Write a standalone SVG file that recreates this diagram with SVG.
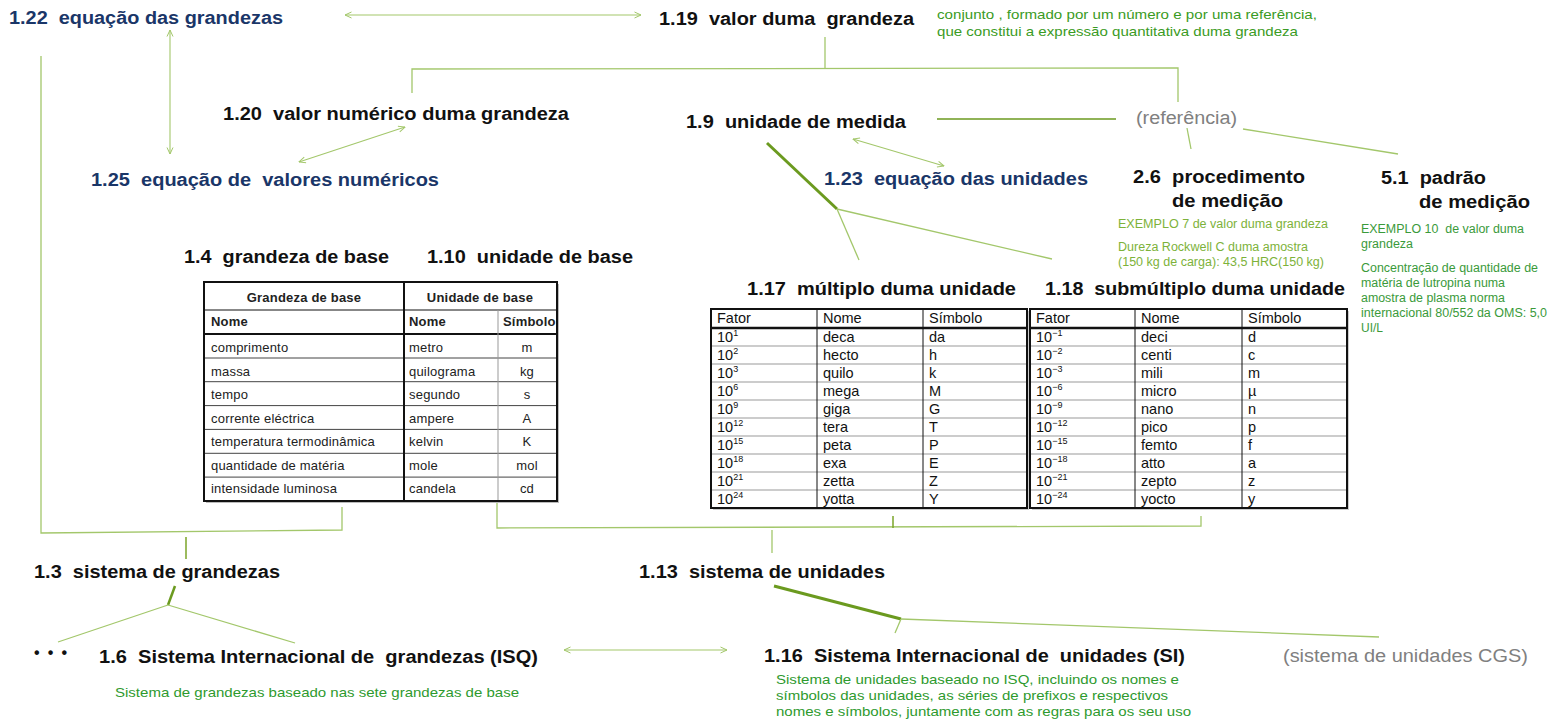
<svg xmlns="http://www.w3.org/2000/svg" width="1551" height="724" viewBox="0 0 1551 724" xml:space="preserve">
<style>
text{white-space:pre}
.lb{font-family:"Liberation Sans",Arial,sans-serif;font-weight:bold;font-size:18px;fill:#111}
.nv{fill:#1A3668}
.gy{font-family:"Liberation Sans",Arial,sans-serif;font-size:18px;fill:#808080}
.gd{font-family:"Liberation Sans",Arial,sans-serif;font-size:13.5px;fill:#3A9B24}
.gs{font-family:"Liberation Sans",Arial,sans-serif;font-size:12px}
.yg{fill:#7DB23A}
.dg{fill:#3A9A3A}
.tb{font-family:"Liberation Sans",Arial,sans-serif;font-size:13px;fill:#222;letter-spacing:0.2px}
.tbb{font-weight:bold}
.tr{font-family:"Liberation Sans",Arial,sans-serif;font-size:14.5px;fill:#111}
.sup{font-size:9px}
.ln{fill:none;stroke:#A3C76B;stroke-width:1.3}
.th{fill:none;stroke:#6B9A1F;stroke-width:3}
.md{fill:none;stroke:#7BA428;stroke-width:1.5}
.ar{fill:none;stroke:#A3C76B;stroke-width:1.1;marker-start:url(#ah);marker-end:url(#ah)}
.bk{fill:none;stroke:#111;stroke-width:2}
.bt{fill:none;stroke:#111;stroke-width:1}
.gl{fill:none;stroke:#999;stroke-width:1}
</style>
<defs>
<marker id="ah" viewBox="0 0 8 8" refX="7.5" refY="4" markerWidth="8" markerHeight="8" markerUnits="userSpaceOnUse" orient="auto-start-reverse">
<path d="M1,1 L7.5,4 L1,7" fill="none" stroke="#A3C76B" stroke-width="1"/>
</marker>
</defs>
<rect width="1551" height="724" fill="#fff"/>

<g id="connectors">
<line class="ar" x1="345" y1="15" x2="641" y2="15"/>
<line class="ar" x1="170" y1="30" x2="170" y2="154"/>
<line class="ar" x1="405" y1="127" x2="299" y2="162"/>
<path class="ln" d="M41,56 V533 L342,530 V507"/>
<line class="md" x1="186" y1="537" x2="186" y2="559"/>
<path class="ln" d="M497,502 V528 L1201,526 V516"/>
<line class="md" x1="893" y1="516" x2="893" y2="528"/>
<line class="ln" x1="772" y1="530" x2="772" y2="553"/>
<path class="ln" d="M412,93 V69 L1178,68 V102"/>
<line class="ln" x1="825" y1="37" x2="825" y2="69"/>
<line x1="937" y1="119" x2="1116" y2="119" stroke="#6B9A1F" stroke-width="1.5"/>
<line class="ar" x1="853" y1="139" x2="944" y2="166"/>
<line class="th" x1="767" y1="143" x2="837" y2="209"/>
<line class="ln" x1="837" y1="209" x2="859" y2="260"/>
<line class="ln" x1="837" y1="209" x2="1052" y2="259"/>
<line class="ln" x1="1187" y1="128" x2="1191" y2="149"/>
<line class="ln" x1="1243" y1="129" x2="1398" y2="154"/>
<line class="th" x1="175" y1="586" x2="168" y2="605" style="stroke-width:2.5"/>
<line class="ln" x1="168" y1="605" x2="58" y2="642"/>
<line class="ln" x1="168" y1="605" x2="295" y2="643"/>
<line class="ar" x1="564" y1="650" x2="727" y2="650"/>
<line class="th" x1="774" y1="586" x2="901" y2="619"/>
<line class="ln" x1="901" y1="619" x2="1379" y2="637"/>
<line class="ln" x1="901" y1="619" x2="895" y2="633"/>
</g>

<g id="n1_22"><text class="lb nv" x="9" y="24" textLength="274" lengthAdjust="spacingAndGlyphs">1.22  equação das grandezas</text></g>
<g id="n1_19">
<text class="lb" x="659" y="25" textLength="255" lengthAdjust="spacingAndGlyphs">1.19  valor duma  grandeza</text>
<text class="gd" x="937" y="19" textLength="380" lengthAdjust="spacingAndGlyphs">conjunto , formado por um número e por uma referência,</text>
<text class="gd" x="937" y="36" textLength="361" lengthAdjust="spacingAndGlyphs">que constitui a expressão quantitativa duma grandeza</text>
</g>
<g id="n1_20"><text class="lb" x="223" y="120" textLength="346" lengthAdjust="spacingAndGlyphs">1.20  valor numérico duma grandeza</text></g>
<g id="n1_9"><text class="lb" x="686" y="128" textLength="220" lengthAdjust="spacingAndGlyphs">1.9  unidade de medida</text></g>
<g id="nref"><text class="gy" x="1136" y="124" textLength="101" lengthAdjust="spacingAndGlyphs">(referência)</text></g>
<g id="n1_25"><text class="lb nv" x="91" y="186" textLength="348" lengthAdjust="spacingAndGlyphs">1.25  equação de  valores numéricos</text></g>
<g id="n1_23"><text class="lb nv" x="824" y="185" textLength="264" lengthAdjust="spacingAndGlyphs">1.23  equação das unidades</text></g>
<g id="n2_6">
<text class="lb" x="1133" y="183" textLength="172" lengthAdjust="spacingAndGlyphs">2.6  procedimento</text>
<text class="lb" x="1172" y="207" textLength="111" lengthAdjust="spacingAndGlyphs">de medição</text>
<text class="gs yg" x="1118" y="228" textLength="210" lengthAdjust="spacingAndGlyphs">EXEMPLO 7 de valor duma grandeza</text>
<text class="gs yg" x="1118" y="251" textLength="190" lengthAdjust="spacingAndGlyphs">Dureza Rockwell C duma amostra</text>
<text class="gs yg" x="1118" y="266" textLength="206" lengthAdjust="spacingAndGlyphs">(150 kg de carga): 43,5 HRC(150 kg)</text>
</g>
<g id="n5_1">
<text class="lb" x="1381" y="184" textLength="105" lengthAdjust="spacingAndGlyphs">5.1  padrão</text>
<text class="lb" x="1419" y="208" textLength="111" lengthAdjust="spacingAndGlyphs">de medição</text>
<text class="gs dg" x="1361" y="233" textLength="163" lengthAdjust="spacingAndGlyphs">EXEMPLO 10  de valor duma</text>
<text class="gs dg" x="1361" y="248" textLength="52" lengthAdjust="spacingAndGlyphs">grandeza</text>
<text class="gs dg" x="1361" y="272" textLength="177" lengthAdjust="spacingAndGlyphs">Concentração de quantidade de</text>
<text class="gs dg" x="1361" y="287" textLength="144" lengthAdjust="spacingAndGlyphs">matéria de lutropina numa</text>
<text class="gs dg" x="1361" y="302" textLength="144" lengthAdjust="spacingAndGlyphs">amostra de plasma norma</text>
<text class="gs dg" x="1361" y="317" textLength="186" lengthAdjust="spacingAndGlyphs">internacional 80/552 da OMS: 5,0</text>
<text class="gs dg" x="1361" y="332" textLength="22" lengthAdjust="spacingAndGlyphs">UI/L</text>
</g>
<g id="n1_4"><text class="lb" x="184" y="263" textLength="205" lengthAdjust="spacingAndGlyphs">1.4  grandeza de base</text></g>
<g id="n1_10"><text class="lb" x="427" y="263" textLength="206" lengthAdjust="spacingAndGlyphs">1.10  unidade de base</text></g>

<g id="tabela_base">
<rect x="206" y="284" width="353" height="219" fill="#bbb"/>
<rect x="204" y="282" width="353" height="219" fill="#fff"/>
<line class="bt" x1="204" y1="310" x2="557" y2="310"/>
<line class="bk" x1="204" y1="334" x2="557" y2="334"/>
<line class="bt" x1="204" y1="358" x2="557" y2="358" style="stroke:#444"/>
<line class="bt" x1="204" y1="381.7" x2="557" y2="381.7" style="stroke:#444"/>
<line class="bt" x1="204" y1="405.6" x2="557" y2="405.6" style="stroke:#444"/>
<line class="bt" x1="204" y1="429.4" x2="557" y2="429.4" style="stroke:#444"/>
<line class="bt" x1="204" y1="453.3" x2="557" y2="453.3" style="stroke:#444"/>
<line class="bt" x1="204" y1="477.1" x2="557" y2="477.1" style="stroke:#444"/>
<line class="gl" x1="498" y1="310" x2="498" y2="501"/>
<line class="bk" x1="404" y1="282" x2="404" y2="501"/>
<rect class="bk" x="204" y="282" width="353" height="219"/>
<text class="tb tbb" x="304" y="302" text-anchor="middle">Grandeza de base</text>
<text class="tb tbb" x="480" y="302" text-anchor="middle">Unidade de base</text>
<text class="tb tbb" x="211" y="326">Nome</text>
<text class="tb tbb" x="409" y="326">Nome</text>
<text class="tb tbb" x="503" y="326">Símbolo</text>
<text class="tb" x="211" y="352">comprimento</text><text class="tb" x="409" y="352">metro</text><text class="tb" x="527" y="352" text-anchor="middle">m</text>
<text class="tb" x="211" y="375.5">massa</text><text class="tb" x="409" y="375.5">quilograma</text><text class="tb" x="527" y="375.5" text-anchor="middle">kg</text>
<text class="tb" x="211" y="399">tempo</text><text class="tb" x="409" y="399">segundo</text><text class="tb" x="527" y="399" text-anchor="middle">s</text>
<text class="tb" x="211" y="422.5">corrente eléctrica</text><text class="tb" x="409" y="422.5">ampere</text><text class="tb" x="527" y="422.5" text-anchor="middle">A</text>
<text class="tb" x="211" y="446">temperatura termodinâmica</text><text class="tb" x="409" y="446">kelvin</text><text class="tb" x="527" y="446" text-anchor="middle">K</text>
<text class="tb" x="211" y="469.5">quantidade de matéria</text><text class="tb" x="409" y="469.5">mole</text><text class="tb" x="527" y="469.5" text-anchor="middle">mol</text>
<text class="tb" x="211" y="493">intensidade luminosa</text><text class="tb" x="409" y="493">candela</text><text class="tb" x="527" y="493" text-anchor="middle">cd</text>
</g>

<g id="n1_17"><text class="lb" x="747" y="295" textLength="269" lengthAdjust="spacingAndGlyphs">1.17  múltiplo duma unidade</text></g>
<g id="n1_18"><text class="lb" x="1045" y="295" textLength="300" lengthAdjust="spacingAndGlyphs">1.18  submúltiplo duma unidade</text></g>

<g id="tabela_multiplos">
<rect x="713" y="311" width="316" height="199" fill="#ccc"/>
<rect x="711" y="309" width="316" height="199" fill="#fff"/>
<line class="gl" x1="711" y1="346" x2="1027" y2="346"/>
<line class="gl" x1="711" y1="364" x2="1027" y2="364"/>
<line class="gl" x1="711" y1="382" x2="1027" y2="382"/>
<line class="gl" x1="711" y1="400" x2="1027" y2="400"/>
<line class="gl" x1="711" y1="418" x2="1027" y2="418"/>
<line class="gl" x1="711" y1="436" x2="1027" y2="436"/>
<line class="gl" x1="711" y1="454" x2="1027" y2="454"/>
<line class="gl" x1="711" y1="472" x2="1027" y2="472"/>
<line class="gl" x1="711" y1="490" x2="1027" y2="490"/>
<line class="bt" x1="817" y1="309" x2="817" y2="508"/>
<line class="bt" x1="923" y1="309" x2="923" y2="508"/>
<line x1="711" y1="328" x2="1027" y2="328" stroke="#111" stroke-width="2.5"/>
<rect class="bk" x="711" y="309" width="316" height="199"/>
<text class="tr" x="717" y="323">Fator</text><text class="tr" x="823" y="323">Nome</text><text class="tr" x="929" y="323">Símbolo</text>
<text class="tr" x="717" y="342">10<tspan class="sup" dy="-6">1</tspan></text><text class="tr" x="823" y="342">deca</text><text class="tr" x="929" y="342">da</text>
<text class="tr" x="717" y="360">10<tspan class="sup" dy="-6">2</tspan></text><text class="tr" x="823" y="360">hecto</text><text class="tr" x="929" y="360">h</text>
<text class="tr" x="717" y="378">10<tspan class="sup" dy="-6">3</tspan></text><text class="tr" x="823" y="378">quilo</text><text class="tr" x="929" y="378">k</text>
<text class="tr" x="717" y="396">10<tspan class="sup" dy="-6">6</tspan></text><text class="tr" x="823" y="396">mega</text><text class="tr" x="929" y="396">M</text>
<text class="tr" x="717" y="414">10<tspan class="sup" dy="-6">9</tspan></text><text class="tr" x="823" y="414">giga</text><text class="tr" x="929" y="414">G</text>
<text class="tr" x="717" y="432">10<tspan class="sup" dy="-6">12</tspan></text><text class="tr" x="823" y="432">tera</text><text class="tr" x="929" y="432">T</text>
<text class="tr" x="717" y="450">10<tspan class="sup" dy="-6">15</tspan></text><text class="tr" x="823" y="450">peta</text><text class="tr" x="929" y="450">P</text>
<text class="tr" x="717" y="468">10<tspan class="sup" dy="-6">18</tspan></text><text class="tr" x="823" y="468">exa</text><text class="tr" x="929" y="468">E</text>
<text class="tr" x="717" y="486">10<tspan class="sup" dy="-6">21</tspan></text><text class="tr" x="823" y="486">zetta</text><text class="tr" x="929" y="486">Z</text>
<text class="tr" x="717" y="504">10<tspan class="sup" dy="-6">24</tspan></text><text class="tr" x="823" y="504">yotta</text><text class="tr" x="929" y="504">Y</text>
</g>

<g id="tabela_submultiplos">
<rect x="1032" y="311" width="317" height="199" fill="#ccc"/>
<rect x="1030" y="309" width="317" height="199" fill="#fff"/>
<line class="gl" x1="1030" y1="346" x2="1347" y2="346"/>
<line class="gl" x1="1030" y1="364" x2="1347" y2="364"/>
<line class="gl" x1="1030" y1="382" x2="1347" y2="382"/>
<line class="gl" x1="1030" y1="400" x2="1347" y2="400"/>
<line class="gl" x1="1030" y1="418" x2="1347" y2="418"/>
<line class="gl" x1="1030" y1="436" x2="1347" y2="436"/>
<line class="gl" x1="1030" y1="454" x2="1347" y2="454"/>
<line class="gl" x1="1030" y1="472" x2="1347" y2="472"/>
<line class="gl" x1="1030" y1="490" x2="1347" y2="490"/>
<line class="bt" x1="1135" y1="309" x2="1135" y2="508"/>
<line class="bt" x1="1242" y1="309" x2="1242" y2="508"/>
<line x1="1030" y1="328" x2="1347" y2="328" stroke="#111" stroke-width="2.5"/>
<rect class="bk" x="1030" y="309" width="317" height="199"/>
<text class="tr" x="1036" y="323">Fator</text><text class="tr" x="1141" y="323">Nome</text><text class="tr" x="1248" y="323">Símbolo</text>
<text class="tr" x="1036" y="342">10<tspan class="sup" dy="-6">−1</tspan></text><text class="tr" x="1141" y="342">deci</text><text class="tr" x="1248" y="342">d</text>
<text class="tr" x="1036" y="360">10<tspan class="sup" dy="-6">−2</tspan></text><text class="tr" x="1141" y="360">centi</text><text class="tr" x="1248" y="360">c</text>
<text class="tr" x="1036" y="378">10<tspan class="sup" dy="-6">−3</tspan></text><text class="tr" x="1141" y="378">mili</text><text class="tr" x="1248" y="378">m</text>
<text class="tr" x="1036" y="396">10<tspan class="sup" dy="-6">−6</tspan></text><text class="tr" x="1141" y="396">micro</text><text class="tr" x="1248" y="396">µ</text>
<text class="tr" x="1036" y="414">10<tspan class="sup" dy="-6">−9</tspan></text><text class="tr" x="1141" y="414">nano</text><text class="tr" x="1248" y="414">n</text>
<text class="tr" x="1036" y="432">10<tspan class="sup" dy="-6">−12</tspan></text><text class="tr" x="1141" y="432">pico</text><text class="tr" x="1248" y="432">p</text>
<text class="tr" x="1036" y="450">10<tspan class="sup" dy="-6">−15</tspan></text><text class="tr" x="1141" y="450">femto</text><text class="tr" x="1248" y="450">f</text>
<text class="tr" x="1036" y="468">10<tspan class="sup" dy="-6">−18</tspan></text><text class="tr" x="1141" y="468">atto</text><text class="tr" x="1248" y="468">a</text>
<text class="tr" x="1036" y="486">10<tspan class="sup" dy="-6">−21</tspan></text><text class="tr" x="1141" y="486">zepto</text><text class="tr" x="1248" y="486">z</text>
<text class="tr" x="1036" y="504">10<tspan class="sup" dy="-6">−24</tspan></text><text class="tr" x="1141" y="504">yocto</text><text class="tr" x="1248" y="504">y</text>
</g>

<g id="n1_3"><text class="lb" x="34" y="578" textLength="246" lengthAdjust="spacingAndGlyphs">1.3  sistema de grandezas</text></g>
<g id="n1_13"><text class="lb" x="639" y="578" textLength="246" lengthAdjust="spacingAndGlyphs">1.13  sistema de unidades</text></g>
<g id="ndots"><text class="lb" x="34" y="658" style="font-size:16px" textLength="33" lengthAdjust="spacing">• • •</text></g>
<g id="n1_6">
<text class="lb" x="99" y="663" textLength="439" lengthAdjust="spacingAndGlyphs">1.6  Sistema Internacional de  grandezas (ISQ)</text>
<text class="gd" x="115" y="697" style="font-size:13px;fill:#2E9A2E" textLength="404" lengthAdjust="spacingAndGlyphs">Sistema de grandezas baseado nas sete grandezas de base</text>
</g>
<g id="n1_16">
<text class="lb" x="764" y="662" textLength="421" lengthAdjust="spacingAndGlyphs">1.16  Sistema Internacional de  unidades (SI)</text>
<text class="gd" x="776" y="684" style="font-size:13px;fill:#2E9A2E" textLength="403" lengthAdjust="spacingAndGlyphs">Sistema de unidades baseado no ISQ, incluindo os nomes e</text>
<text class="gd" x="776" y="700" style="font-size:13px;fill:#2E9A2E" textLength="392" lengthAdjust="spacingAndGlyphs">símbolos das unidades, as séries de prefixos e respectivos</text>
<text class="gd" x="776" y="716" style="font-size:13px;fill:#2E9A2E" textLength="415" lengthAdjust="spacingAndGlyphs">nomes e símbolos, juntamente com as regras para os seu uso</text>
</g>
<g id="ncgs"><text class="gy" x="1283" y="662" textLength="245" lengthAdjust="spacingAndGlyphs">(sistema de unidades CGS)</text></g>
</svg>
